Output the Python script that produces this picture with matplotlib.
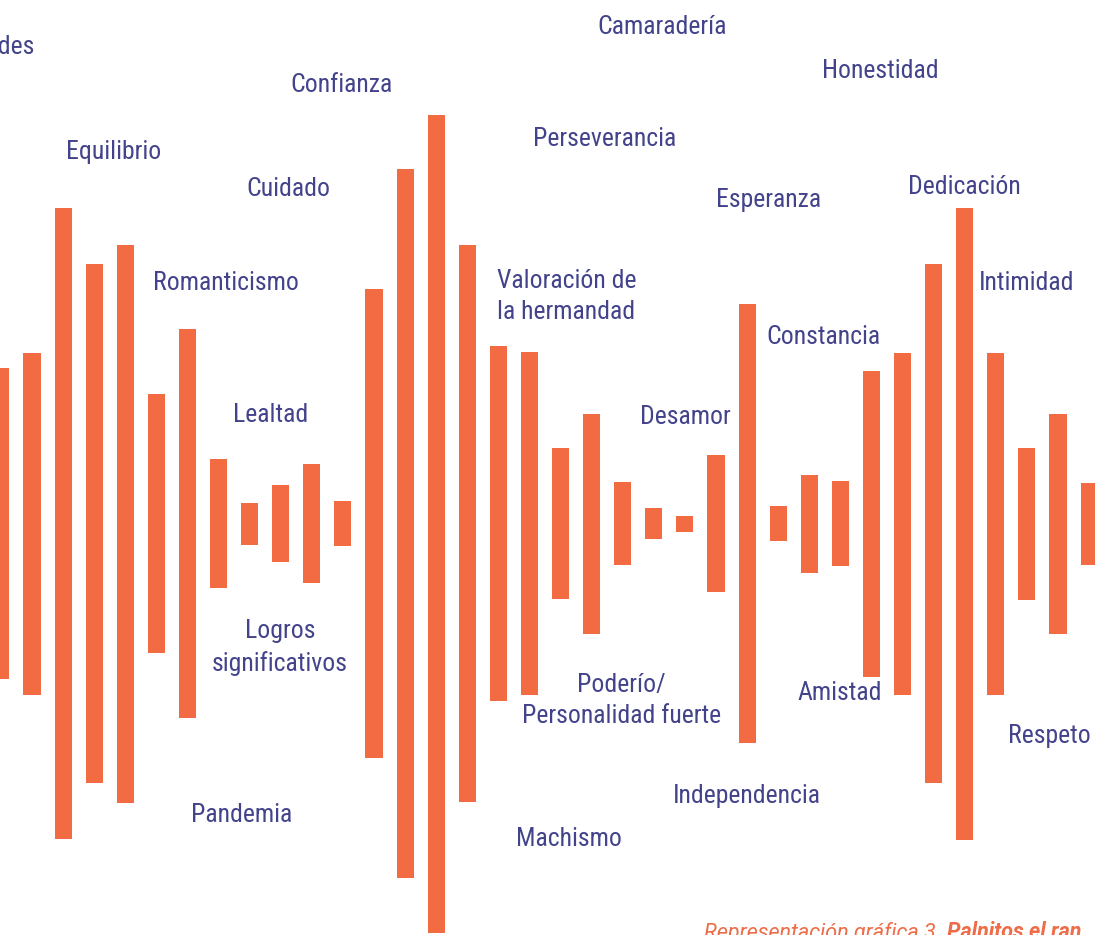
import matplotlib
matplotlib.use("Agg")
import numpy as np
import matplotlib.pyplot as plt
from matplotlib import font_manager

# bar lengths (full height, in px of the original graphic), all centred on one line
bar_lengths = [311, 342, 631, 519, 558, 259, 389, 129, 42, 77, 119, 45,
               469, 709, 818, 557, 355, 343, 151, 220, 83, 31, 16, 137,
               439, 35, 98, 85, 306, 342, 519, 632, 342, 152, 220, 82]

# words around the bars
words = ["Habilidades", "Equilibrio", "Confianza", "Cuidado", "Romanticismo",
         "Lealtad", "Logros\nsignificativos", "Pandemia", "Camaradería",
         "Perseverancia", "Honestidad", "Esperanza", "Dedicación",
         "Valoración de\nla hermandad", "Intimidad", "Constancia", "Desamor",
         "Poderío/\nPersonalidad fuerte", "Amistad", "Respeto",
         "Independencia", "Machismo"]

caption_a = "Representación gráfica 3. "
caption_b = "Palnitos el ran"

# label layout: (x in bar index units, y offset from centre line, horizontal align)
word_pos = [(1.07, 476, 'right'), (3.63, 371, 'center'), (10.97, 439, 'center'),
            (9.26, 335, 'center'), (7.24, 240, 'center'), (8.68, 108, 'center'),
            (8.97, -124, 'center'), (7.75, -292, 'center'), (21.26, 496, 'center'),
            (19.43, 384, 'center'), (28.27, 453, 'center'), (24.70, 324, 'center'),
            (31.0, 337, 'center'), (15.95, 227, 'left'), (33.0, 241, 'center'),
            (26.47, 187, 'center'), (22.0, 107, 'center'), (19.97, -177, 'center'),
            (26.99, -170, 'center'), (33.71, -212, 'center'), (24.0, -272, 'center'),
            (18.27, -315, 'center')]

bar_color = "#F26B43"
text_color = "#43438C"


def pick_font(names):
    for name in names:
        try:
            font_manager.findfont(font_manager.FontProperties(family=name),
                                  fallback_to_default=False)
            return name
        except ValueError:
            continue
    return 'DejaVu Sans'


# narrow grotesque look of the original
label_family = pick_font(['Liberation Sans Narrow', 'Roboto Condensed', 'Arial Narrow',
                          'Roboto', 'Liberation Sans'])
label_size = {'Liberation Sans Narrow': 19, 'Roboto Condensed': 18.5,
              'Arial Narrow': 19}.get(label_family, 16)

fig = plt.figure(figsize=(10.95, 9.35), dpi=100)
ax = fig.add_axes([0, 0, 1, 1])

idx = np.arange(len(bar_lengths))
lengths = np.array(bar_lengths, dtype=float)
ax.bar(idx, lengths, bottom=-lengths / 2, width=0.55, color=bar_color, linewidth=0)

for word, (x, y, ha) in zip(words, word_pos):
    ax.text(x, y, word, ha=ha, va='center', multialignment=ha if ha != 'right' else 'center',
            fontsize=label_size, color=text_color, family=[label_family, 'DejaVu Sans'],
            linespacing=1.4)

# caption, cut by the bottom edge like in the source page
t1 = ax.text(22.62, -415, caption_a, ha='left', va='baseline', fontsize=15.5,
             style='italic', color="#EE6C47", family=['Roboto', 'DejaVu Sans'])
ax.annotate(caption_b, xy=(1, 0), xycoords=t1, ha='left', va='bottom', fontsize=15.5,
            style='italic', fontweight='bold', color="#EE6C47",
            family=['Roboto', 'DejaVu Sans'])

ax.set_xlim(-0.03, 35.19)
ax.set_ylim(-411.5, 523.5)
ax.axis('off')

fig.savefig("out.png", dpi=100, facecolor='white')
